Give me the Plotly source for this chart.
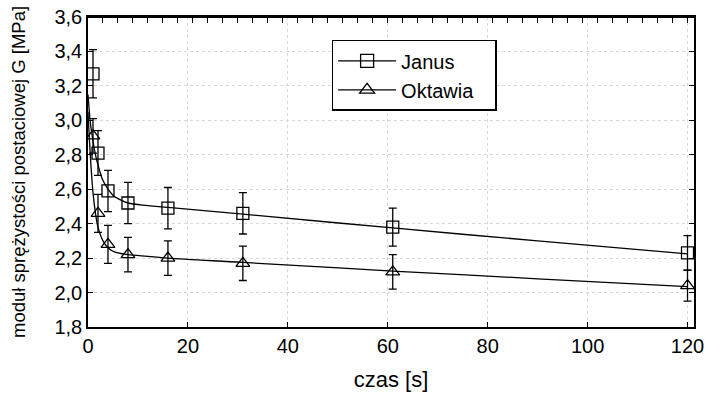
import plotly.graph_objects as go

# measured points
t = [1, 2, 4, 8, 16, 31, 61, 120]
janus = [3.27, 2.81, 2.59, 2.52, 2.49, 2.46, 2.38, 2.23]
janus_err = [0.14, 0.13, 0.12, 0.12, 0.12, 0.12, 0.11, 0.10]
oktawia = [2.91, 2.46, 2.28, 2.22, 2.20, 2.17, 2.12, 2.04]
oktawia_err = [0.10, 0.11, 0.11, 0.10, 0.10, 0.10, 0.10, 0.09]

# fitted curves
fit_t = [0, 0.5, 1, 1.5, 2, 3, 4, 5, 6, 8, 12, 16, 31, 61, 90, 120]
janus_fit = [3.15, 2.98, 2.88, 2.80, 2.74, 2.65, 2.60, 2.565, 2.545, 2.52, 2.505, 2.495, 2.455, 2.375, 2.30, 2.225]
oktawia_fit = [3.05, 2.78, 2.58, 2.46, 2.38, 2.30, 2.26, 2.24, 2.23, 2.22, 2.21, 2.20, 2.175, 2.125, 2.08, 2.035]

x_ticks = [0, 20, 40, 60, 80, 100, 120]
y_ticks = [1.8, 2.0, 2.2, 2.4, 2.6, 2.8, 3.0, 3.2, 3.4, 3.6]

FONT = "Liberation Sans, Arial, sans-serif"
fig = go.Figure()

fig.add_trace(go.Scatter(x=fit_t, y=janus_fit, mode="lines", line=dict(color="black", width=1.3, shape="spline"),
                         showlegend=False, hoverinfo="skip"))
fig.add_trace(go.Scatter(x=fit_t, y=oktawia_fit, mode="lines", line=dict(color="black", width=1.3, shape="spline"),
                         showlegend=False, hoverinfo="skip"))

fig.add_trace(go.Scatter(x=t, y=janus, mode="markers", showlegend=False,
                         marker=dict(symbol="square-open", size=12, color="black", line=dict(width=1.3)),
                         error_y=dict(type="data", array=janus_err, color="black", thickness=1.3, width=4)))
fig.add_trace(go.Scatter(x=t, y=oktawia, mode="markers", showlegend=False,
                         marker=dict(symbol="triangle-up-open", size=12, color="black", line=dict(width=1.3)),
                         error_y=dict(type="data", array=oktawia_err, color="black", thickness=1.3, width=4)))

# legend entries
fig.add_trace(go.Scatter(x=[None], y=[None], mode="lines+markers", name="Janus",
                         line=dict(color="black", width=1.3),
                         marker=dict(symbol="square-open", size=13, color="black", line=dict(width=1.3))))
fig.add_trace(go.Scatter(x=[None], y=[None], mode="lines+markers", name="Oktawia\u00a0\u00a0\u00a0",
                         line=dict(color="black", width=1.3),
                         marker=dict(symbol="triangle-up-open", size=13, color="black", line=dict(width=1.3))))

# invisible trace on top axis for minor ticks
fig.add_trace(go.Scatter(x=[0, 120], y=[2.0, 2.0], xaxis="x2", yaxis="y", mode="markers",
                         marker=dict(opacity=0), showlegend=False, hoverinfo="skip"))

fig.update_layout(
    width=707, height=396,
    margin=dict(l=88, r=13, t=17, b=69, autoexpand=False),
    paper_bgcolor="white", plot_bgcolor="white",
    font=dict(family=FONT, color="black", size=20),
    showlegend=True,
    legend=dict(x=0.402, y=0.926, xanchor="left", yanchor="top",
                bordercolor="black", borderwidth=1.5, bgcolor="white",
                font=dict(size=20, family=FONT), itemwidth=58, tracegroupgap=0),
    xaxis=dict(range=[0, 121.3], tickvals=x_ticks, ticktext=[str(v) for v in x_ticks],
               showline=True, linecolor="black", linewidth=1.5, mirror=True,
               ticks="inside", ticklen=5, tickcolor="black", automargin=False,
               showgrid=True, gridcolor="#d8d8d8", griddash="dot", gridwidth=1,
               zeroline=False,
               title=dict(text="czas [s]", font=dict(size=22), standoff=16),
               tickfont=dict(size=20)),
    xaxis2=dict(range=[0, 121.3], overlaying="x", anchor="free", position=1, side="top",
                tickmode="linear", dtick=3, tick0=0,
                ticks="inside", ticklen=5, tickwidth=1.3, tickcolor="black", showticklabels=False,
                showgrid=False, zeroline=False, showline=True, linecolor="black", linewidth=1.5,
                automargin=False),
    yaxis=dict(range=[1.8, 3.6], tickvals=y_ticks,
               ticktext=[f"{v:.1f}".replace(".", ",") for v in y_ticks],
               showline=True, linecolor="black", linewidth=1.5, mirror="ticks",
               ticks="inside", ticklen=5, tickcolor="black", automargin=False,
               showgrid=True, gridcolor="#d8d8d8", griddash="dot", gridwidth=1,
               zeroline=False, tickfont=dict(size=20)),
    annotations=[dict(text="moduł sprężystości postaciowej G [MPa]", textangle=-90,
                      xref="paper", yref="paper", x=-70 / 606, y=0.5,
                      xanchor="center", yanchor="middle", showarrow=False,
                      font=dict(size=18.5, family=FONT))],
)

fig.write_html("out.html")
